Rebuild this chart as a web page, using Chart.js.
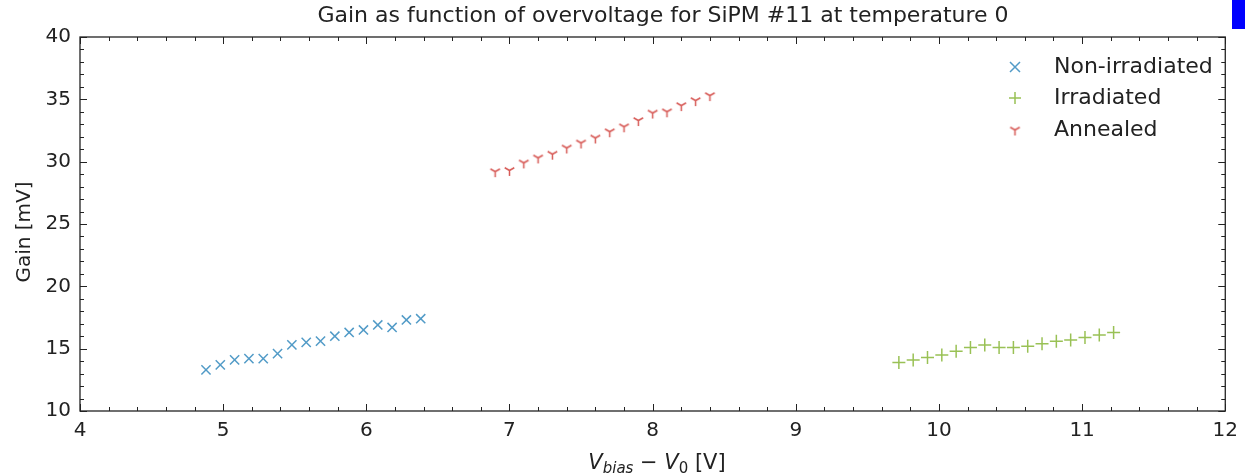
<!DOCTYPE html>
<html>
<head>
<meta charset="utf-8">
<script src="https://cdn.jsdelivr.net/npm/chart.js@4/dist/chart.umd.min.js"></script>
<style>
  html, body { margin: 0; padding: 0; background: #fff; }
  #wrap { position: relative; width: 1246px; height: 473px; }
  #marker { position: absolute; left: 1232px; top: 0; width: 13px; height: 29px; background: #0000ff; }
</style>
</head>
<body>
<div id="wrap">
  <canvas id="chart" width="1246" height="473"></canvas>
  <div id="marker"></div>
</div>
<script>
const title = 'Gain as function of overvoltage for SiPM #11 at temperature 0';
const seriesNames = ['Non-irradiated', 'Irradiated', 'Annealed'];

const nonIrrX = [4.88, 4.98, 5.08, 5.18, 5.28, 5.38, 5.48, 5.58, 5.68, 5.78, 5.88, 5.98, 6.08, 6.18, 6.28, 6.38];
const nonIrrY = [13.3, 13.7, 14.1, 14.2, 14.2, 14.6, 15.3, 15.5, 15.6, 16.0, 16.3, 16.5, 16.9, 16.7, 17.3, 17.4];

const irrX = [9.72, 9.82, 9.92, 10.02, 10.12, 10.22, 10.32, 10.42, 10.52, 10.62, 10.72, 10.82, 10.92, 11.02, 11.12, 11.22];
const irrY = [13.9, 14.1, 14.3, 14.5, 14.8, 15.1, 15.3, 15.1, 15.1, 15.2, 15.4, 15.6, 15.7, 15.9, 16.1, 16.3];

const annX = [6.9, 7.0, 7.1, 7.2, 7.3, 7.4, 7.5, 7.6, 7.7, 7.8, 7.9, 8.0, 8.1, 8.2, 8.3, 8.4];
const annY = [29.2, 29.3, 29.9, 30.3, 30.6, 31.1, 31.5, 31.9, 32.4, 32.8, 33.3, 33.9, 34.0, 34.5, 34.9, 35.3];

const xTicks = [4, 5, 6, 7, 8, 9, 10, 11, 12];
const yTicks = [10, 15, 20, 25, 30, 35, 40];

const colors = ['rgba(52,138,189,0.85)', 'rgba(142,186,66,0.9)', 'rgba(208,62,58,0.85)'];
const FONT = 'DejaVu Sans';

// matplotlib-style "tri_down" marker as an image
function triDown(color, size) {
  const c = document.createElement('canvas');
  c.width = size; c.height = size;
  const g = c.getContext('2d');
  const m = size / 2, r = size / 2 - 1;
  g.strokeStyle = color; g.lineWidth = 1.5;
  g.beginPath();
  g.moveTo(m, m); g.lineTo(m, m + r);
  g.moveTo(m, m); g.lineTo(m - r * 0.87, m - r * 0.5);
  g.moveTo(m, m); g.lineTo(m + r * 0.87, m - r * 0.5);
  g.stroke();
  return c;
}
const triImg = triDown(colors[2], 13);

const pts = (xs, ys) => xs.map((x, i) => ({ x: x, y: ys[i] }));

const frame = {
  id: 'frame',
  afterDraw(chart) {
    const ctx = chart.ctx, a = chart.chartArea;
    const xs = chart.scales.x, ys = chart.scales.y;
    ctx.save();
    ctx.strokeStyle = '#222';
    ctx.lineWidth = 1.3;
    ctx.strokeRect(a.left, a.top, a.right - a.left, a.bottom - a.top);
    // inward ticks on all sides
    ctx.lineWidth = 1;
    ctx.beginPath();
    for (let v = 4; v <= 12.001; v += 0.2) {
      const px = Math.round(xs.getPixelForValue(v)) + 0.5;
      const major = Math.abs(v - Math.round(v)) < 1e-6;
      const len = major ? 7 : 4;
      ctx.moveTo(px, a.bottom); ctx.lineTo(px, a.bottom - len);
      ctx.moveTo(px, a.top); ctx.lineTo(px, a.top + len);
    }
    for (let v = 10; v <= 40; v += 1) {
      const py = Math.round(ys.getPixelForValue(v)) + 0.5;
      const len = v % 5 === 0 ? 7 : 4;
      ctx.moveTo(a.left, py); ctx.lineTo(a.left + len, py);
      ctx.moveTo(a.right, py); ctx.lineTo(a.right - len, py);
    }
    ctx.stroke();

    // title
    ctx.fillStyle = '#222';
    ctx.font = '22px "' + FONT + '"';
    ctx.textAlign = 'center';
    ctx.textBaseline = 'middle';
    ctx.fillText(title, 663, 16);

    // y axis title
    ctx.save();
    ctx.translate(25, 232);
    ctx.rotate(-Math.PI / 2);
    ctx.font = '20px "' + FONT + '"';
    ctx.fillText('Gain [mV]', 0, 0);
    ctx.restore();

    // x axis title: V_bias − V_0 [V]
    const parts = [
      { t: 'V', f: 'italic 21px "' + FONT + '"', dy: 0 },
      { t: 'bias', f: 'italic 15px "' + FONT + '"', dy: 4 },
      { t: ' \u2212 ', f: '21px "' + FONT + '"', dy: 0 },
      { t: 'V', f: 'italic 21px "' + FONT + '"', dy: 0 },
      { t: '0', f: '15px "' + FONT + '"', dy: 4 },
      { t: ' [V]', f: '21px "' + FONT + '"', dy: 0 }
    ];
    let total = 0;
    parts.forEach(p => { ctx.font = p.f; p.w = ctx.measureText(p.t).width; total += p.w; });
    let cx = 657 - total / 2;
    ctx.textAlign = 'left';
    ctx.textBaseline = 'alphabetic';
    parts.forEach(p => { ctx.font = p.f; ctx.fillText(p.t, cx, 469 + p.dy); cx += p.w; });

    // legend
    const lx = 1015, tx = 1054, rows = [67, 98, 130];
    ctx.font = '22px "' + FONT + '"';
    ctx.textBaseline = 'middle';
    rows.forEach((ry, i) => {
      ctx.fillStyle = '#222';
      ctx.fillText(seriesNames[i], tx, ry);
      ctx.strokeStyle = colors[i];
      ctx.lineWidth = 1.5;
      ctx.beginPath();
      if (i === 0) {
        ctx.moveTo(lx - 5, ry - 5); ctx.lineTo(lx + 5, ry + 5);
        ctx.moveTo(lx - 5, ry + 5); ctx.lineTo(lx + 5, ry - 5);
        ctx.stroke();
      } else if (i === 1) {
        ctx.moveTo(lx - 6, ry); ctx.lineTo(lx + 6, ry);
        ctx.moveTo(lx, ry - 6); ctx.lineTo(lx, ry + 6);
        ctx.stroke();
      } else {
        ctx.drawImage(triImg, lx - 6.5, ry - 6.5);
      }
    });
    ctx.restore();
  }
};

new Chart(document.getElementById('chart'), {
  type: 'scatter',
  data: {
    datasets: [
      { label: seriesNames[0], data: pts(nonIrrX, nonIrrY), pointStyle: 'crossRot', pointRadius: 6.5, borderColor: colors[0], borderWidth: 1.5, backgroundColor: colors[0] },
      { label: seriesNames[1], data: pts(irrX, irrY), pointStyle: 'cross', pointRadius: 6.5, borderColor: colors[1], borderWidth: 1.5, backgroundColor: colors[1] },
      { label: seriesNames[2], data: pts(annX, annY), pointStyle: triImg, pointRadius: 6.5, borderColor: colors[2], backgroundColor: colors[2] }
    ]
  },
  options: {
    responsive: false,
    animation: false,
    events: [],
    layout: { padding: { top: 37, right: 18, left: 0, bottom: 0 } },
    plugins: { legend: { display: false }, tooltip: { enabled: false }, title: { display: false } },
    scales: {
      x: {
        type: 'linear', min: 4, max: 12,
        afterBuildTicks: s => { s.ticks = xTicks.map(v => ({ value: v })); },
        afterFit: s => { s.height = 62; },
        grid: { display: false, drawTicks: false },
        border: { display: false },
        ticks: { color: '#222', font: { family: FONT, size: 20 }, padding: 8, maxRotation: 0 }
      },
      y: {
        type: 'linear', min: 10, max: 40,
        afterBuildTicks: s => { s.ticks = yTicks.map(v => ({ value: v })); },
        afterFit: s => { s.width = 80; },
        grid: { display: false, drawTicks: false },
        border: { display: false },
        ticks: { color: '#222', font: { family: FONT, size: 20 }, padding: 9 }
      }
    }
  },
  plugins: [frame]
});
</script>
</body>
</html>
